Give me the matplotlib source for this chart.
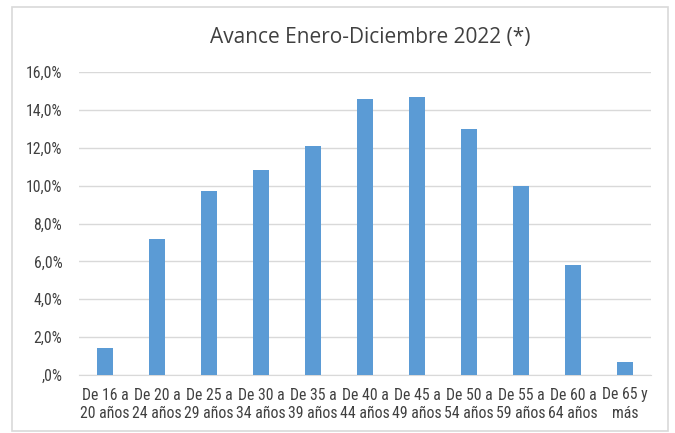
import matplotlib.pyplot as plt
from matplotlib.patches import Rectangle
from matplotlib.ticker import FuncFormatter

# age groups and share of total (%)
categories = ["De 16 a\n20 años", "De 20 a\n24 años", "De 25 a\n29 años", "De 30 a\n34 años",
              "De 35 a\n39 años", "De 40 a\n44 años", "De 45 a\n49 años", "De 50 a\n54 años",
              "De 55 a\n59 años", "De 60 a\n64 años", "De 65 y\nmás"]
values = [1.4, 7.2, 9.7, 10.8, 12.1, 14.6, 14.7, 13.0, 10.0, 5.8, 0.7]
yticks = [0, 2, 4, 6, 8, 10, 12, 14, 16]

plt.rcParams['font.family'] = ['Roboto Condensed', 'Roboto', 'DejaVu Sans']

fig = plt.figure(figsize=(6.75, 4.33), dpi=100)
ax = fig.add_axes([79/675, 58/433, 572/675, 303/433])

# outer chart frame
fig.patches.append(Rectangle((12/675, 2/433), 656/675, 424/433, transform=fig.transFigure,
                             fill=False, edgecolor="#D9D9D9", linewidth=1.2))

x = range(len(categories))
ax.bar(x, values, width=0.31, color="#5B9BD5", zorder=3)

ax.set_xlim(-0.5, len(categories) - 0.5)
ax.set_ylim(0, 16)
ax.set_yticks(yticks)
ax.yaxis.set_major_formatter(FuncFormatter(
    lambda v, p: ",0%" if v == 0 else ("%.1f%%" % v).replace(".", ",")))
ax.set_xticks(list(x))
ax.set_xticklabels(categories, fontsize=11.3, color="#404040", linespacing=1.3)
ax.tick_params(axis="y", labelsize=11.3, colors="#404040", length=0, pad=12)
ax.tick_params(axis="x", length=0, pad=9)

ax.grid(axis="y", color="#D9D9D9", linewidth=1, zorder=0)
for s in ["top", "right", "left"]:
    ax.spines[s].set_visible(False)
ax.spines["bottom"].set_color("#D9D9D9")

fig.text(370/675, 1 - 38/433, "Avance Enero-Diciembre 2022 (*)", ha="center", va="center",
         fontsize=15, color="#404040", family=["Open Sans", "DejaVu Sans"])

fig.savefig("out.png", dpi=100)
